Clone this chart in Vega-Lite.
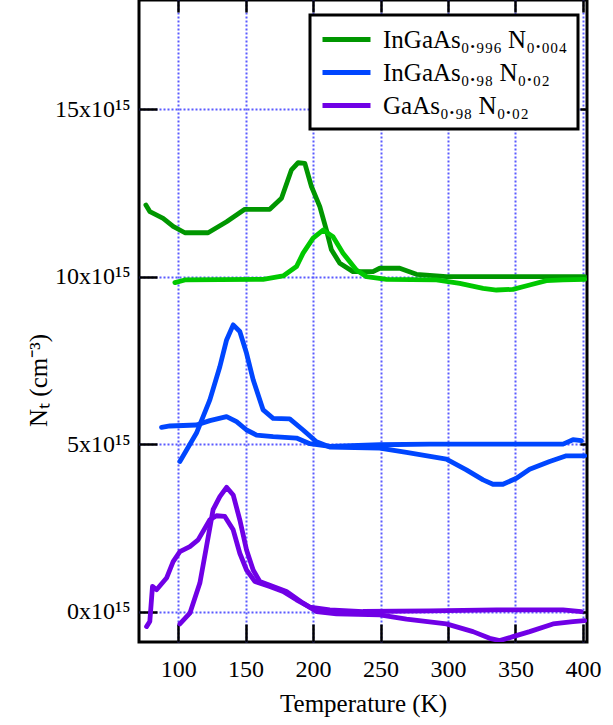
{
 "$schema": "https://vega.github.io/schema/vega-lite/v6.json",
 "width": 448, "height": 642,
 "autosize": {"type": "none"},
 "padding": {"left": 139, "top": 0, "right": 26, "bottom": 83},
 "background": "white",
 "config": {"view": {"stroke": "black", "strokeWidth": 3}, "font": "Times New Roman, Liberation Serif, serif", "legend": {"strokeWidth": 3}},
 "data": {"values": [
  {"sample":"A","sweep":1,"T":76.1,"N":12.14},{"sample":"A","sweep":1,"T":79.1,"N":11.94},{"sample":"A","sweep":1,"T":88.9,"N":11.74},{"sample":"A","sweep":1,"T":96.3,"N":11.5},{"sample":"A","sweep":1,"T":105,"N":11.31},{"sample":"A","sweep":1,"T":122.2,"N":11.31},{"sample":"A","sweep":1,"T":135.9,"N":11.64},{"sample":"A","sweep":1,"T":149.4,"N":12.01},{"sample":"A","sweep":1,"T":167.9,"N":12.01},{"sample":"A","sweep":1,"T":176.6,"N":12.34},{"sample":"A","sweep":1,"T":184,"N":13.19},{"sample":"A","sweep":1,"T":188.9,"N":13.4},{"sample":"A","sweep":1,"T":193.9,"N":13.38},{"sample":"A","sweep":1,"T":198.8,"N":12.69},{"sample":"A","sweep":1,"T":205,"N":12.09},{"sample":"A","sweep":1,"T":209.9,"N":11.39},{"sample":"A","sweep":1,"T":213.6,"N":10.8},{"sample":"A","sweep":1,"T":219.8,"N":10.4},{"sample":"A","sweep":1,"T":229.6,"N":10.15},{"sample":"A","sweep":1,"T":244.4,"N":10.15},{"sample":"A","sweep":1,"T":249.4,"N":10.25},{"sample":"A","sweep":1,"T":264.2,"N":10.25},{"sample":"A","sweep":1,"T":276.6,"N":10.07},{"sample":"A","sweep":1,"T":298.8,"N":10.0},{"sample":"A","sweep":1,"T":401.3,"N":10.0},
  {"sample":"A","sweep":2,"T":97.6,"N":9.82},{"sample":"A","sweep":2,"T":105,"N":9.9},{"sample":"A","sweep":2,"T":163,"N":9.92},{"sample":"A","sweep":2,"T":177.8,"N":10.02},{"sample":"A","sweep":2,"T":187.7,"N":10.3},{"sample":"A","sweep":2,"T":192.6,"N":10.7},{"sample":"A","sweep":2,"T":200,"N":11.15},{"sample":"A","sweep":2,"T":207.4,"N":11.39},{"sample":"A","sweep":2,"T":214.8,"N":11.19},{"sample":"A","sweep":2,"T":222.2,"N":10.7},{"sample":"A","sweep":2,"T":232.1,"N":10.2},{"sample":"A","sweep":2,"T":239.6,"N":10.0},{"sample":"A","sweep":2,"T":254.4,"N":9.92},{"sample":"A","sweep":2,"T":291.4,"N":9.9},{"sample":"A","sweep":2,"T":308.7,"N":9.8},{"sample":"A","sweep":2,"T":326,"N":9.65},{"sample":"A","sweep":2,"T":335.9,"N":9.6},{"sample":"A","sweep":2,"T":348.1,"N":9.62},{"sample":"A","sweep":2,"T":360.5,"N":9.75},{"sample":"A","sweep":2,"T":372.9,"N":9.88},{"sample":"A","sweep":2,"T":385.2,"N":9.9},{"sample":"A","sweep":2,"T":401.3,"N":9.92},
  {"sample":"B","sweep":1,"T":87.7,"N":5.5},{"sample":"B","sweep":1,"T":93.9,"N":5.54},{"sample":"B","sweep":1,"T":113.6,"N":5.57},{"sample":"B","sweep":1,"T":123.5,"N":5.7},{"sample":"B","sweep":1,"T":135.9,"N":5.82},{"sample":"B","sweep":1,"T":143.3,"N":5.67},{"sample":"B","sweep":1,"T":150.7,"N":5.42},{"sample":"B","sweep":1,"T":158.1,"N":5.27},{"sample":"B","sweep":1,"T":170.4,"N":5.22},{"sample":"B","sweep":1,"T":187.7,"N":5.18},{"sample":"B","sweep":1,"T":197.6,"N":5.01},{"sample":"B","sweep":1,"T":212.4,"N":4.93},{"sample":"B","sweep":1,"T":249.4,"N":4.98},{"sample":"B","sweep":1,"T":286.4,"N":5.0},{"sample":"B","sweep":1,"T":335.9,"N":5.0},{"sample":"B","sweep":1,"T":385.2,"N":5.0},{"sample":"B","sweep":1,"T":392.6,"N":5.13},{"sample":"B","sweep":1,"T":398.8,"N":5.1},
  {"sample":"B","sweep":2,"T":101.3,"N":4.48},{"sample":"B","sweep":2,"T":113.6,"N":5.33},{"sample":"B","sweep":2,"T":123.5,"N":6.32},{"sample":"B","sweep":2,"T":130.9,"N":7.31},{"sample":"B","sweep":2,"T":135.9,"N":8.11},{"sample":"B","sweep":2,"T":140.8,"N":8.56},{"sample":"B","sweep":2,"T":145.7,"N":8.36},{"sample":"B","sweep":2,"T":150.7,"N":7.71},{"sample":"B","sweep":2,"T":155.6,"N":6.92},{"sample":"B","sweep":2,"T":163,"N":6.02},{"sample":"B","sweep":2,"T":170.4,"N":5.77},{"sample":"B","sweep":2,"T":182.7,"N":5.75},{"sample":"B","sweep":2,"T":192.6,"N":5.42},{"sample":"B","sweep":2,"T":202.5,"N":5.07},{"sample":"B","sweep":2,"T":212.4,"N":4.91},{"sample":"B","sweep":2,"T":249.4,"N":4.88},{"sample":"B","sweep":2,"T":269.2,"N":4.75},{"sample":"B","sweep":2,"T":298.8,"N":4.55},{"sample":"B","sweep":2,"T":313.6,"N":4.23},{"sample":"B","sweep":2,"T":326,"N":3.93},{"sample":"B","sweep":2,"T":333.3,"N":3.8},{"sample":"B","sweep":2,"T":340.7,"N":3.8},{"sample":"B","sweep":2,"T":350.7,"N":3.98},{"sample":"B","sweep":2,"T":360.5,"N":4.25},{"sample":"B","sweep":2,"T":375.3,"N":4.48},{"sample":"B","sweep":2,"T":387.7,"N":4.65},{"sample":"B","sweep":2,"T":401.3,"N":4.65},
  {"sample":"C","sweep":1,"T":76.6,"N":-0.45},{"sample":"C","sweep":1,"T":79,"N":-0.3},{"sample":"C","sweep":1,"T":81,"N":0.75},{"sample":"C","sweep":1,"T":84,"N":0.65},{"sample":"C","sweep":1,"T":91.4,"N":1.0},{"sample":"C","sweep":1,"T":96.3,"N":1.49},{"sample":"C","sweep":1,"T":101.3,"N":1.79},{"sample":"C","sweep":1,"T":108.7,"N":1.94},{"sample":"C","sweep":1,"T":114.8,"N":2.14},{"sample":"C","sweep":1,"T":123.5,"N":2.74},{"sample":"C","sweep":1,"T":128.4,"N":2.86},{"sample":"C","sweep":1,"T":134.6,"N":2.84},{"sample":"C","sweep":1,"T":140.8,"N":2.44},{"sample":"C","sweep":1,"T":145.7,"N":1.74},{"sample":"C","sweep":1,"T":150.7,"N":1.24},{"sample":"C","sweep":1,"T":156.8,"N":0.9},{"sample":"C","sweep":1,"T":167.9,"N":0.75},{"sample":"C","sweep":1,"T":177.8,"N":0.6},{"sample":"C","sweep":1,"T":187.7,"N":0.35},{"sample":"C","sweep":1,"T":197.6,"N":0.13},{"sample":"C","sweep":1,"T":212.4,"N":0.05},{"sample":"C","sweep":1,"T":237,"N":0.0},{"sample":"C","sweep":1,"T":286.4,"N":0.02},{"sample":"C","sweep":1,"T":335.9,"N":0.05},{"sample":"C","sweep":1,"T":385.2,"N":0.05},{"sample":"C","sweep":1,"T":398.8,"N":0.0},
  {"sample":"C","sweep":2,"T":101.3,"N":-0.37},{"sample":"C","sweep":2,"T":108.7,"N":-0.05},{"sample":"C","sweep":2,"T":116.1,"N":0.85},{"sample":"C","sweep":2,"T":121,"N":1.94},{"sample":"C","sweep":2,"T":125.9,"N":3.04},{"sample":"C","sweep":2,"T":130.9,"N":3.43},{"sample":"C","sweep":2,"T":135.9,"N":3.71},{"sample":"C","sweep":2,"T":140.8,"N":3.48},{"sample":"C","sweep":2,"T":145.7,"N":2.74},{"sample":"C","sweep":2,"T":150.7,"N":1.84},{"sample":"C","sweep":2,"T":155.6,"N":1.24},{"sample":"C","sweep":2,"T":160.5,"N":0.9},{"sample":"C","sweep":2,"T":170.4,"N":0.75},{"sample":"C","sweep":2,"T":180.3,"N":0.6},{"sample":"C","sweep":2,"T":192.6,"N":0.25},{"sample":"C","sweep":2,"T":202.5,"N":0.0},{"sample":"C","sweep":2,"T":217.3,"N":-0.07},{"sample":"C","sweep":2,"T":249.4,"N":-0.1},{"sample":"C","sweep":2,"T":269.2,"N":-0.23},{"sample":"C","sweep":2,"T":298.8,"N":-0.37},{"sample":"C","sweep":2,"T":318.5,"N":-0.6},{"sample":"C","sweep":2,"T":330.9,"N":-0.8},{"sample":"C","sweep":2,"T":338.3,"N":-0.87},{"sample":"C","sweep":2,"T":348.1,"N":-0.75},{"sample":"C","sweep":2,"T":360.5,"N":-0.6},{"sample":"C","sweep":2,"T":377.8,"N":-0.37},{"sample":"C","sweep":2,"T":392.6,"N":-0.3},{"sample":"C","sweep":2,"T":401.3,"N":-0.27}
 ]},
 "layer": [
  {
   "transform": [{"filter": "!(datum.sample == 'A' && datum.sweep == 2)"}],
   "mark": {"type": "line", "strokeWidth": 4.8, "clip": true, "strokeJoin": "round", "strokeCap": "round"},
   "encoding": {
    "x": {"field": "T", "type": "quantitative", "scale": {"domain": [71, 403], "nice": false, "zero": false},
     "axis": {"orient": "bottom", "title": "Temperature (K)", "values": [100,150,200,250,300,350,400], "grid": true, "gridColor": "#5a5aff", "gridDash": [2,2], "gridWidth": 2, "tickSize": -18, "tickWidth": 2.5, "tickColor": "black", "domain": false, "labelFont": "Times New Roman, Liberation Serif, serif", "labelFontSize": 24, "labelColor": "black", "labelPadding": 33, "titleFont": "Times New Roman, Liberation Serif, serif", "titleFontSize": 25, "titleFontWeight": "normal", "titleColor": "black", "titlePadding": 10}},
    "y": {"field": "N", "type": "quantitative", "scale": {"domain": [-0.91, 18.26], "nice": false, "zero": false},
     "axis": {"orient": "left", "title": "Nₜ (cm⁻³)", "values": [0,5,10,15], "labelExpr": "datum.value + 'x10¹⁵'", "grid": true, "gridColor": "#5a5aff", "gridDash": [2,2], "gridWidth": 2, "tickSize": -18, "tickWidth": 2.5, "tickColor": "black", "domain": false, "labelFont": "Times New Roman, Liberation Serif, serif", "labelFontSize": 24, "labelColor": "black", "labelPadding": 27, "titleFont": "Times New Roman, Liberation Serif, serif", "titleFontSize": 25, "titleFontWeight": "normal", "titleColor": "black", "titleX": -101, "titleY": 380, "titleAlign": "center", "titleBaseline": "middle", "titleAngle": 270}},
    "color": {"field": "sample", "type": "nominal", "scale": {"domain": ["A","B","C"], "range": ["#009600", "#0046ff", "#7000e6"]},
     "legend": {"orient": "none", "legendX": 171, "legendY": 15, "title": null, "labelExpr": "datum.value == 'A' ? 'InGaAs₀.₉₉₆ N₀.₀₀₄' : datum.value == 'B' ? 'InGaAs₀.₉₈ N₀.₀₂' : 'GaAs₀.₉₈ N₀.₀₂'", "symbolType": "M-2,0H2", "symbolSize": 576, "symbolStrokeWidth": 5, "labelFont": "Times New Roman, Liberation Serif, serif", "labelFontSize": 25, "labelColor": "black", "labelOffset": 22, "strokeColor": "black", "fillColor": "white", "padding": 10, "rowPadding": 5, "symbolOffset": 12, "labelLimit": 400}},
    "detail": {"field": "sweep"}
   }
  },
  {
   "transform": [{"filter": "datum.sample == 'A' && datum.sweep == 2"}],
   "mark": {"type": "line", "strokeWidth": 4.8, "clip": true, "strokeJoin": "round", "strokeCap": "round", "color": "#00c800"},
   "encoding": {
    "x": {"field": "T", "type": "quantitative", "axis": {"orient": "top", "title": null, "labels": false, "values": [100,150,200,250,300,350,400], "grid": false, "domain": false, "tickSize": -12, "tickWidth": 2.5, "tickColor": "black"}},
    "y": {"field": "N", "type": "quantitative", "axis": {"orient": "right", "title": null, "labels": false, "values": [0,5,10,15], "grid": false, "domain": false, "tickSize": -7, "tickWidth": 2.5, "tickColor": "black"}}
   }
  }
 ],
 "resolve": {"axis": {"x": "independent", "y": "independent"}}
}
